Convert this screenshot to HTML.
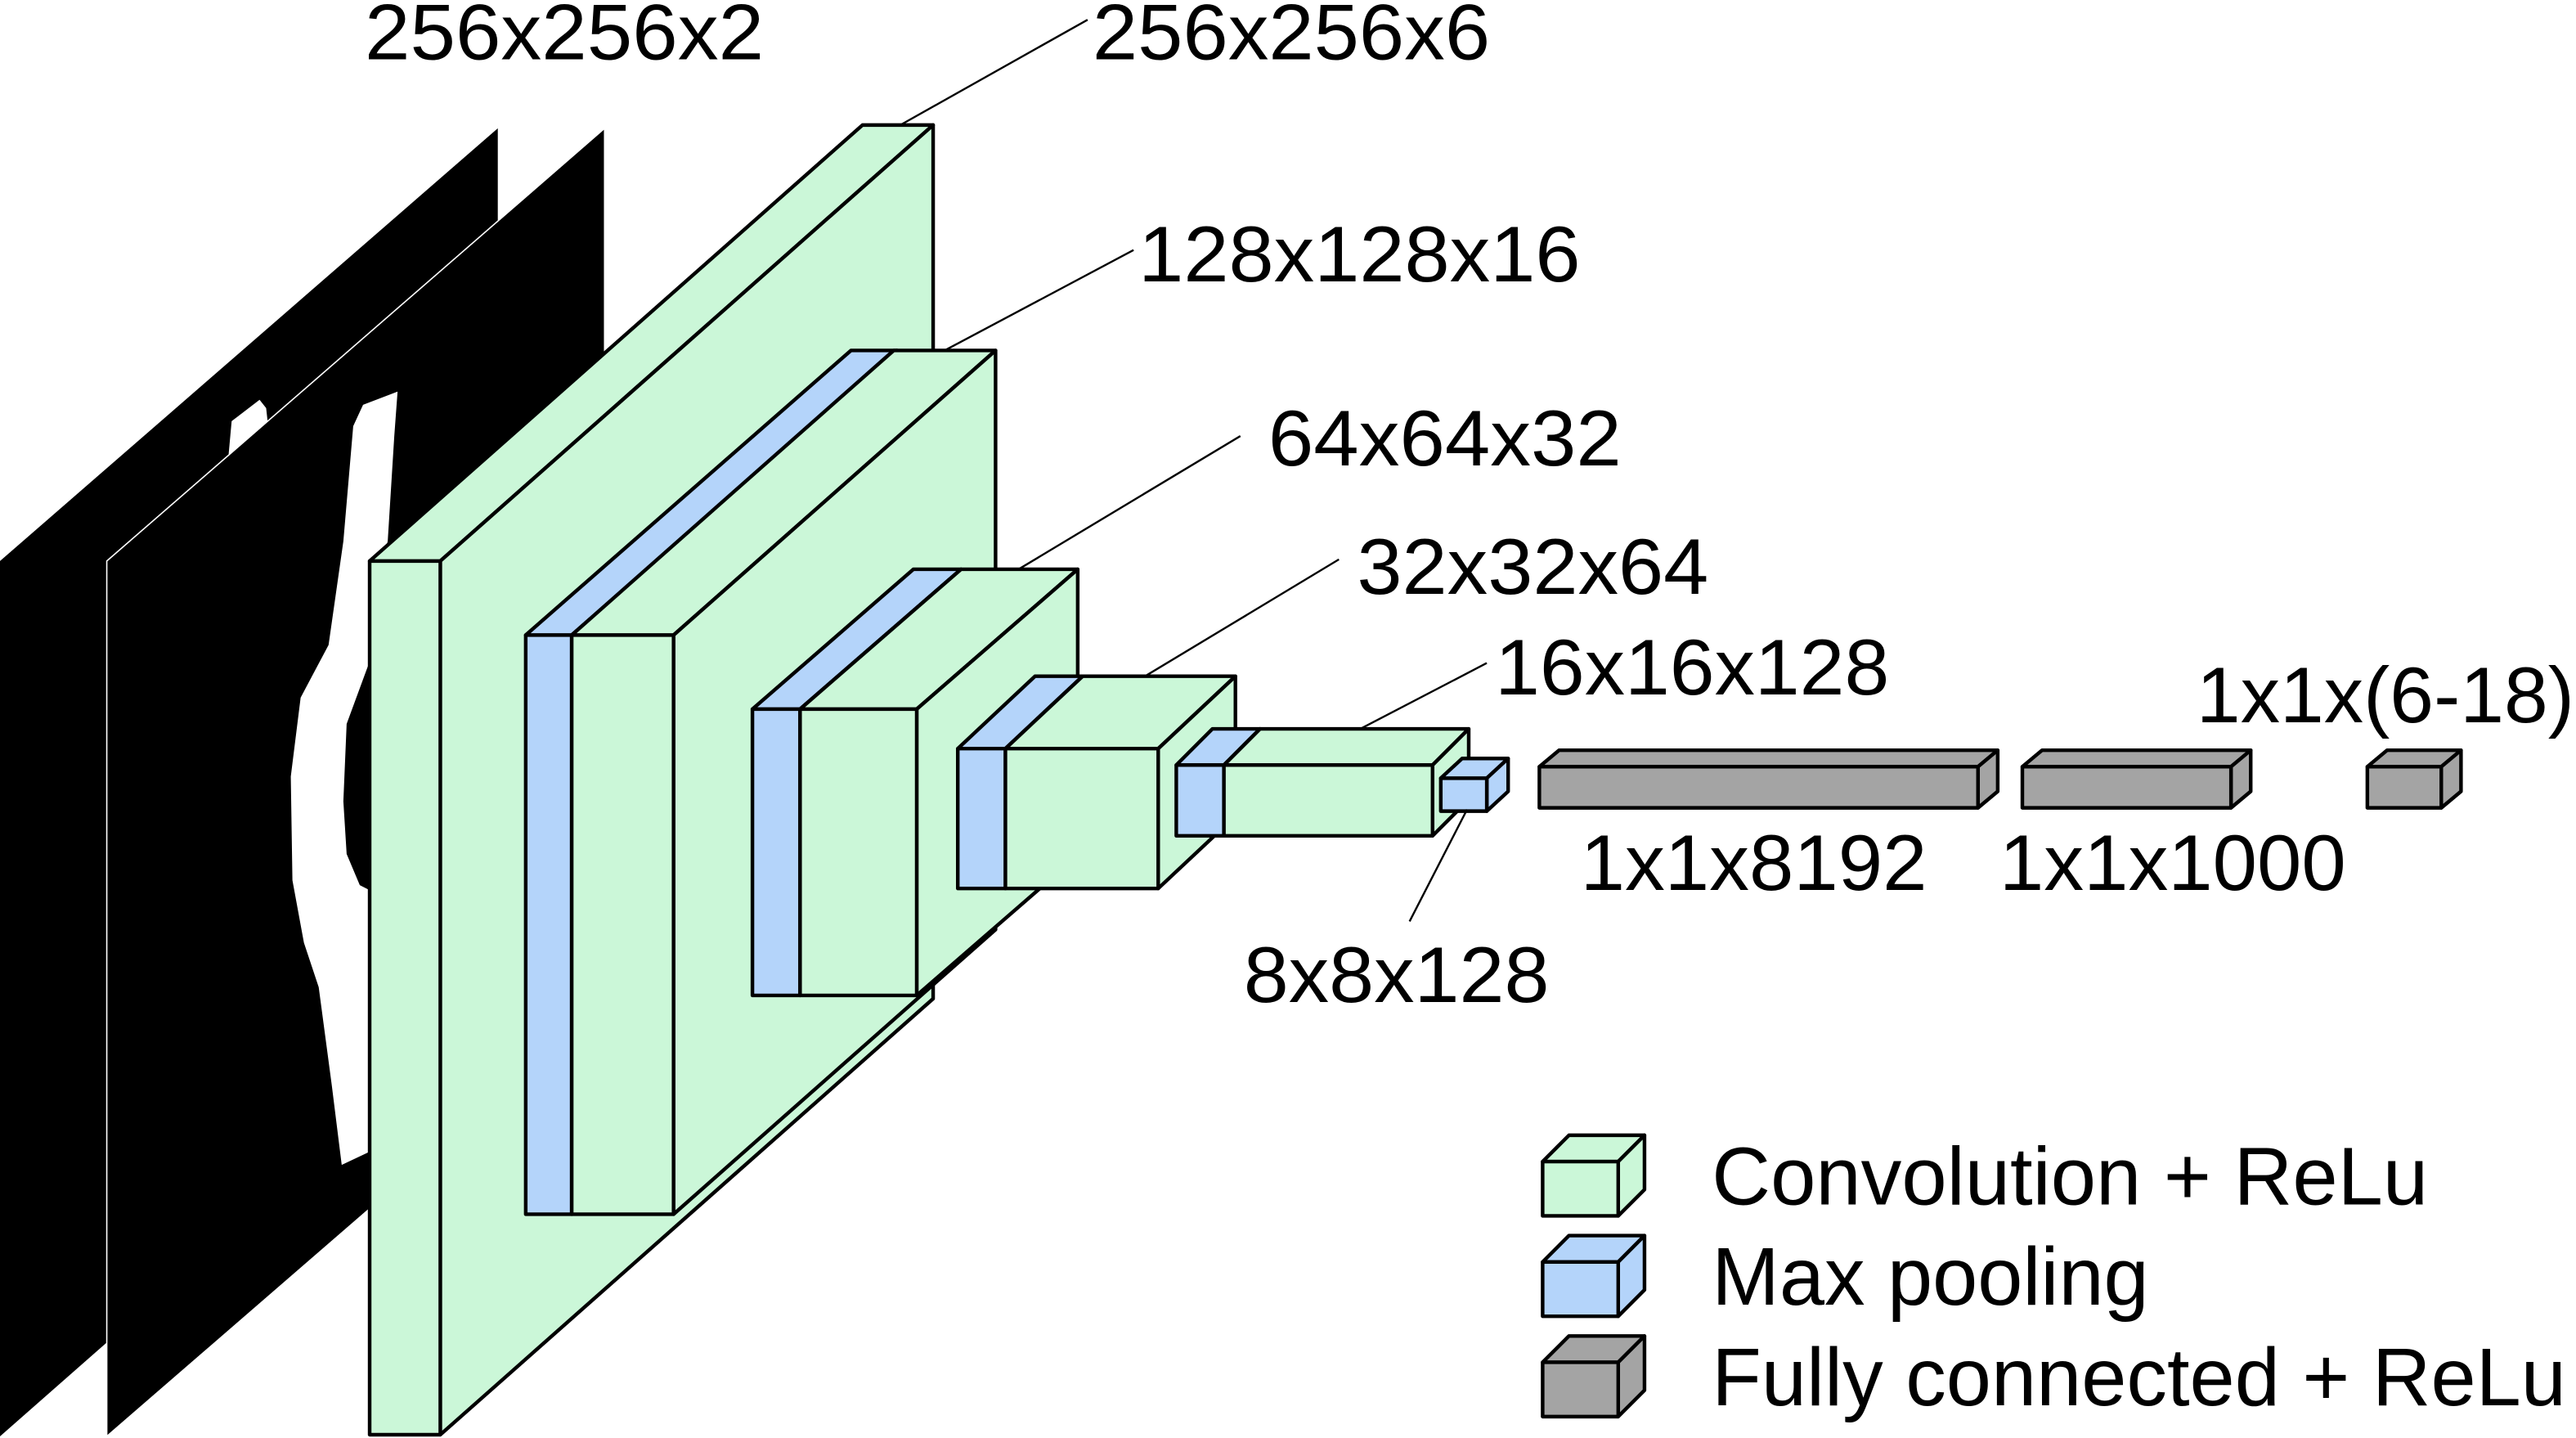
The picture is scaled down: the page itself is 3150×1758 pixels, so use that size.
<!DOCTYPE html>
<html><head><meta charset="utf-8">
<style>
html,body{margin:0;padding:0;background:#fff;width:3150px;height:1758px;overflow:hidden;}
svg{display:block;overflow:hidden;}
text{font-family:"Liberation Sans",Arial,sans-serif;fill:#000;}
</style></head>
<body>
<svg id="cnn" width="3150" height="1758" viewBox="0 0 1568 874" preserveAspectRatio="none" xmlns="http://www.w3.org/2000/svg">
  <rect x="0" y="0" width="1568" height="874" fill="#fff"/>
  <g>
    <polygon points="0,341 303,78 303,607 0,873" fill="#000"/>
    <polygon points="139,278 141,256 158,243 162,248 163,257" fill="#fff"/>
  </g>
  <g>
    <polygon points="65,341 368,78 368,611 65,873" fill="#000" stroke="#fff" stroke-width="0.8"/>
    <polygon points="221,246 242,238 240,265 236,329 230,351 225,355 225,402 211,440 209,487 211,519 219,538 225,541 225,700 208,708 202,660 194,600 185,573 178,535 177,472 183,424 200,392 209,329 215,259" fill="#fff"/>
  </g>
  <g id="blocks"></g>
  <g id="lines" stroke="#000" stroke-width="1.2" fill="none">
    <line x1="548" y1="76" x2="662" y2="12"/>
    <line x1="575" y1="213" x2="690" y2="152"/>
    <line x1="620" y1="346" x2="755" y2="265"/>
    <line x1="697" y1="411" x2="815" y2="340"/>
    <line x1="828" y1="443" x2="905" y2="403"/>
    <line x1="858" y1="560" x2="893" y2="492"/>
  </g>
  <g font-size="48">
    <text x="222" y="36" textLength="243" lengthAdjust="spacingAndGlyphs">256x256x2</text>
    <text x="665" y="36" textLength="242" lengthAdjust="spacingAndGlyphs">256x256x6</text>
    <text x="693" y="171" textLength="269" lengthAdjust="spacingAndGlyphs">128x128x16</text>
    <text x="772" y="283" textLength="215" lengthAdjust="spacingAndGlyphs">64x64x32</text>
    <text x="826" y="361" textLength="214" lengthAdjust="spacingAndGlyphs">32x32x64</text>
    <text x="910" y="422" textLength="240" lengthAdjust="spacingAndGlyphs">16x16x128</text>
    <text x="757" y="609" textLength="186" lengthAdjust="spacingAndGlyphs">8x8x128</text>
    <text x="962" y="541" textLength="211" lengthAdjust="spacingAndGlyphs">1x1x8192</text>
    <text x="1217" y="541" textLength="211" lengthAdjust="spacingAndGlyphs">1x1x1000</text>
    <text x="1337" y="439" textLength="230" lengthAdjust="spacingAndGlyphs">1x1x(6-18)</text>
  </g>
  <g font-size="50">
    <text x="1042" y="732" textLength="436" lengthAdjust="spacingAndGlyphs">Convolution + ReLu</text>
    <text x="1042" y="793" textLength="266" lengthAdjust="spacingAndGlyphs">Max pooling</text>
    <text x="1042" y="854" textLength="520" lengthAdjust="spacingAndGlyphs">Fully connected + ReLu</text>
  </g>
</svg>
<script>
const blockX = [225, 320, 348, 458, 487, 583, 612, 716, 745, 877, 937, 1231, 1441, 939, 939, 939];
const blockY = [341, 386, 386, 431, 431, 455, 455, 465, 465, 473, 466, 466, 466, 706, 767, 828];
const blockW = [43, 28, 62, 29, 71, 29, 93, 29, 127, 28, 267, 127, 45, 46, 46, 46];
const blockH = [531, 352, 352, 174, 174, 85, 85, 43, 43, 20, 25, 25, 25, 33, 33, 33];
const blockDX = [300, 198, 196, 98, 98, 47, 47, 22, 22, 13, 12, 12, 12, 16, 16, 16];
const blockDY = [-265, -173, -173, -85, -85, -44, -44, -22, -22, -12, -10, -10, -10, -16, -16, -16];
const blockKind = ['conv','pool','conv','pool','conv','pool','conv','pool','conv','pool','fc','fc','fc','conv','pool','fc'];
const blockNames = ['conv-block-256','pool-block-128','conv-block-128','pool-block-64','conv-block-64','pool-block-32','conv-block-32','pool-block-16','conv-block-16','pool-block-8','fc-block-8192','fc-block-1000','fc-block-output','legend-conv-swatch','legend-pool-swatch','legend-fc-swatch'];
const colors = {conv:'#cbf7d8', pool:'#b4d4fa', fc:'#a4a4a4'};
const NS = 'http://www.w3.org/2000/svg';
const g = document.getElementById('blocks');
function poly(parent, pts, fill){
  const p = document.createElementNS(NS,'polygon');
  p.setAttribute('points', pts.map(a=>a.join(',')).join(' '));
  p.setAttribute('fill', fill);
  p.setAttribute('stroke', '#000');
  p.setAttribute('stroke-width', '2.2');
  p.setAttribute('stroke-linejoin', 'round');
  parent.appendChild(p);
}
for (let i = 0; i < blockX.length; i++) {
  const x = blockX[i], y = blockY[i], w = blockW[i], h = blockH[i], dx = blockDX[i], dy = blockDY[i];
  const c = colors[blockKind[i]];
  const el = document.createElementNS(NS,'g');
  
  
  poly(el, [[x,y],[x+dx,y+dy],[x+w+dx,y+dy],[x+w,y]], c);
  poly(el, [[x+w,y],[x+w+dx,y+dy],[x+w+dx,y+h+dy],[x+w,y+h]], c);
  poly(el, [[x,y],[x+w,y],[x+w,y+h],[x,y+h]], c);
  g.appendChild(el);
}
</script>
</body></html>
